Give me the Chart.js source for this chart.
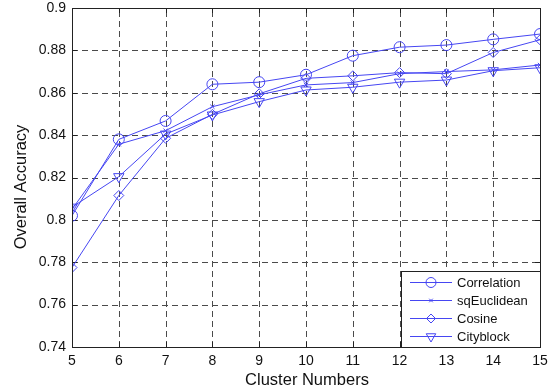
<!DOCTYPE html>
<html>
<head>
<meta charset="utf-8">
<script src="https://cdn.jsdelivr.net/npm/chart.js@4"></script>
<style>
html,body{margin:0;padding:0;background:#fff;}
#wrap{width:555px;height:392px;}
</style>
</head>
<body>
<div id="wrap"><canvas id="c" width="555" height="392"></canvas></div>
<script>
const clusters = [5,6,7,8,9,10,11,12,13,14,15];
const correlation = [0.802,0.838,0.8467,0.864,0.865,0.8685,0.8775,0.8815,0.8825,0.8852,0.8877];
const sqEuclidean = [0.805,0.8357,0.8421,0.8534,0.859,0.8637,0.8648,0.869,0.870,0.8708,0.8731];
const cosine = [0.7775,0.8115,0.8385,0.8498,0.8595,0.8668,0.868,0.8695,0.869,0.879,0.885];
const cityblock = [0.806,0.8204,0.8405,0.8495,0.8558,0.8613,0.8626,0.865,0.866,0.8704,0.8718];
const yTicks = [0.74,0.76,0.78,0.8,0.82,0.84,0.86,0.88,0.9];
const seriesNames = ['Correlation','sqEuclidean','Cosine','Cityblock'];
const xTitle = 'Cluster Numbers';
const yTitle = 'Overall Accuracy';

const BLUE = '#4646f2';
const FONT = '"Liberation Sans", Arial, sans-serif';
const styles = [
  {pointStyle:'circle', radius:5.5, rot:0},
  {pointStyle:'crossRot', radius:3, rot:0},
  {pointStyle:'rectRot', radius:5, rot:0},
  {pointStyle:'triangle', radius:6, rot:180}
];
const allData = [correlation, sqEuclidean, cosine, cityblock];

const datasets = allData.map((arr,i)=>({
  label: seriesNames[i],
  data: clusters.map((c,j)=>({x:c,y:arr[j]})),
  borderColor: BLUE,
  backgroundColor: 'rgba(0,0,0,0)',
  borderWidth: 1,
  pointStyle: styles[i].pointStyle,
  pointRadius: styles[i].radius,
  pointHoverRadius: styles[i].radius,
  pointRotation: styles[i].rot,
  pointBorderColor: BLUE,
  pointBackgroundColor: 'rgba(0,0,0,0)',
  pointBorderWidth: 1,
  tension: 0
}));

const gridPlugin = {
  id:'dashgrid',
  beforeDatasetsDraw(chart){
    const {ctx, chartArea:a, scales} = chart;
    ctx.save();
    ctx.strokeStyle = '#4a4a4a';
    ctx.lineWidth = 1;
    ctx.setLineDash([6,4]);
    clusters.forEach(v=>{
      const x = Math.round(scales.x.getPixelForValue(v))+0.5;
      ctx.beginPath(); ctx.moveTo(x, a.bottom); ctx.lineTo(x, a.top); ctx.stroke();
    });
    yTicks.forEach(v=>{
      const y = Math.round(scales.y.getPixelForValue(v))+0.5;
      ctx.beginPath(); ctx.moveTo(a.left, y); ctx.lineTo(a.right, y); ctx.stroke();
    });
    ctx.setLineDash([]);
    ctx.strokeStyle = '#222';
    clusters.forEach(v=>{
      const x = Math.round(scales.x.getPixelForValue(v))+0.5;
      ctx.beginPath(); ctx.moveTo(x, a.bottom); ctx.lineTo(x, a.bottom-5); ctx.stroke();
      ctx.beginPath(); ctx.moveTo(x, a.top); ctx.lineTo(x, a.top+5); ctx.stroke();
    });
    yTicks.forEach(v=>{
      const y = Math.round(scales.y.getPixelForValue(v))+0.5;
      ctx.beginPath(); ctx.moveTo(a.left, y); ctx.lineTo(a.left+5, y); ctx.stroke();
      ctx.beginPath(); ctx.moveTo(a.right, y); ctx.lineTo(a.right-5, y); ctx.stroke();
    });
    ctx.restore();
  }
};

const framePlugin = {
  id:'frame',
  afterDraw(chart){
    const {ctx, chartArea:a} = chart;
    ctx.save();
    ctx.strokeStyle = '#222';
    ctx.lineWidth = 1;
    ctx.setLineDash([]);
    ctx.strokeRect(Math.round(a.left)+0.5, Math.round(a.top)+0.5, Math.round(a.right-a.left), Math.round(a.bottom-a.top));
    ctx.fillStyle = '#111';
    ctx.font = '16.5px ' + FONT;
    ctx.textAlign = 'center';
    ctx.textBaseline = 'alphabetic';
    ctx.fillText(xTitle, (a.left+a.right)/2 + 1, 385);
    ctx.save();
    ctx.translate(25.5, 187);
    ctx.rotate(-Math.PI/2);
    ctx.fillText(yTitle, 0, 0);
    ctx.restore();
    const lx = 401, ly = 271, lw = 139, lh = 76;
    ctx.fillStyle = '#fff';
    ctx.fillRect(lx, ly, lw, lh);
    ctx.strokeStyle = '#222';
    ctx.strokeRect(lx+0.5, ly+0.5, lw, lh);
    ctx.font = '13px ' + FONT;
    ctx.textAlign = 'left';
    ctx.textBaseline = 'middle';
    seriesNames.forEach((name,i)=>{
      const y = 282 + i*18;
      ctx.strokeStyle = BLUE;
      ctx.lineWidth = 1;
      ctx.beginPath();
      ctx.moveTo(410, y+0.5); ctx.lineTo(452, y+0.5); ctx.stroke();
      ctx.fillStyle = 'rgba(0,0,0,0)';
      Chart.helpers.drawPoint(ctx, {pointStyle: styles[i].pointStyle, radius: styles[i].radius-0.5, rotation: styles[i].rot, borderWidth:1}, 431, y+0.5);
      ctx.fillStyle = '#111';
      ctx.fillText(name, 457, y+1);
    });
    ctx.restore();
  }
};

new Chart(document.getElementById('c'), {
  type:'line',
  data:{datasets},
  options:{
    responsive:false,
    animation:false,
    events:[],
    layout:{padding:{left:0,right:15,top:8,bottom:0}},
    plugins:{legend:{display:false}, tooltip:{enabled:false}},
    scales:{
      x:{
        type:'linear', min:5, max:15,
        afterFit(s){ s.height = 45; s.paddingLeft = 0; s.paddingRight = 0; },
        afterBuildTicks(s){ s.ticks = clusters.map(v=>({value:v})); },
        grid:{display:false, drawTicks:false},
        border:{display:false},
        ticks:{color:'#111', font:{family:FONT, size:14}, padding:6, maxRotation:0, autoSkip:false}
      },
      y:{
        type:'linear', min:0.74, max:0.9,
        afterFit(s){ s.width = 72; s.paddingTop = 0; s.paddingBottom = 0; },
        afterBuildTicks(s){ s.ticks = yTicks.map(v=>({value:v})); },
        grid:{display:false, drawTicks:false},
        border:{display:false},
        ticks:{color:'#111', font:{family:FONT, size:14}, padding:6, autoSkip:false,
          callback:(v)=>String(Number(v.toFixed(2)))}
      }
    }
  },
  plugins:[gridPlugin, framePlugin]
});
</script>
</body>
</html>
